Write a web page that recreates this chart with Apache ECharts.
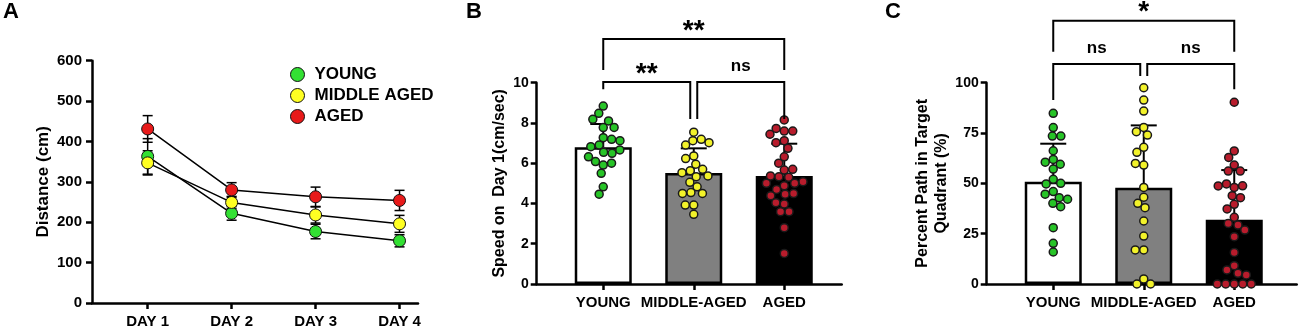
<!DOCTYPE html>
<html>
<head>
<meta charset="utf-8">
<script src="https://cdn.jsdelivr.net/npm/echarts@6.0.0/dist/echarts.min.js"></script>
<style>
html, body { margin: 0; padding: 0; background: #fff; }
#main { width: 1300px; height: 329px; }
</style>
</head>
<body>
<div id="main"></div>
<script>
// ---- panel A : distance per training day (mean, SD) ----
var days = [1, 2, 3, 4];
var groupNames = ['YOUNG', 'MIDDLE AGED', 'AGED'];
var distYoung = [363, 222, 177, 154];
var distYoungSd = [44, 17, 18, 15];
var distMiddle = [347, 249, 218, 196];
var distMiddleSd = [30, 15, 20, 21];
var distAged = [431, 280, 263, 254];
var distAgedSd = [33, 18, 24, 25];

// ---- panels B and C : individual animals ----
var barCats = ['YOUNG', 'MIDDLE-AGED', 'AGED'];
var speedYoung = [8.84, 7.77, 7.27, 6.90, 6.54, 5.91, 5.50, 4.83, 4.46, 8.48, 8.10, 7.19, 6.82, 6.49, 6.08, 8.18, 7.78, 7.12, 6.66, 6.32, 6.00];
var speedMiddle = [7.54, 7.12, 7.19, 6.90, 7.02, 6.36, 6.23, 5.95, 5.63, 5.70, 5.53, 5.33, 5.37, 5.05, 4.83, 4.54, 4.50, 4.50, 3.92, 3.92, 3.46];
var speedAged = [8.15, 7.60, 7.73, 7.60, 7.44, 7.12, 7.02, 6.74, 6.32, 6.00, 5.66, 5.70, 5.33, 5.37, 5.30, 5.00, 5.00, 5.08, 4.88, 4.70, 4.46, 4.49, 4.39, 3.97, 4.04, 3.59, 3.59, 2.80, 1.52];
var speedMean = [6.80, 5.51, 5.37];
var speedSd = [1.15, 1.23, 1.60];

var pathYoung = [84.8, 77.7, 73.5, 73.5, 66.2, 61.9, 60.5, 59.5, 57.1, 52.0, 49.7, 50.0, 45.9, 44.6, 42.9, 42.1, 40.1, 38.4, 28.0, 20.2, 15.9];
var pathMiddle = [97.5, 91.4, 85.9, 77.8, 75.7, 74.0, 67.9, 65.4, 59.1, 59.9, 48.0, 43.1, 40.1, 37.9, 31.3, 23.8, 16.9, 16.9, 2.5, 0, 0];
var pathAged = [90.3, 66.1, 62.9, 59.1, 56.1, 56.1, 48.0, 49.7, 48.8, 48.7, 43.9, 42.9, 39.6, 37.3, 33.1, 30.1, 29.3, 26.8, 23.5, 15.7, 9.1, 7.0, 5.3, 4.5, 0, 0, 0, 0, 0];
var pathMean = [50.8, 47.8, 31.9];
var pathSd = [18.9, 31.0, 24.7];

// brackets: [from, to, top, leftEnd, rightEnd, label]
var speedBrackets = [[0, 1, 10.03, 9.67, 8.2, '**'], [1, 2, 10.03, 8.2, 8.2, 'ns'], [0, 2, 12.17, 10.63, 10.63, '**']];
var pathBrackets = [[0, 1, 109.3, 91.4, 103.3, 'ns'], [1, 2, 109.3, 103.3, 96.7, 'ns'], [0, 2, 130.8, 115.4, 115.4, '*']];

var FONT = '"Liberation Sans", Arial, sans-serif';
var dotColors = ['#27c427', '#f2f22a', '#b81c2c'];
var lineColors = ['#33e033', '#ffff22', '#e81a1a'];
var barFills = ['#ffffff', '#808080', '#000000'];

var chart = echarts.init(document.getElementById('main'));

function errorBars(capHalf, width) {
  return function (params, api) {
    var x = api.value(0);
    var lo = api.coord([x, api.value(1)]);
    var hi = api.coord([x, api.value(2)]);
    var st = { stroke: '#000', lineWidth: width };
    var kids = [
      { type: 'line', shape: { x1: lo[0], y1: lo[1], x2: hi[0], y2: hi[1] }, style: st },
      { type: 'line', shape: { x1: hi[0] - capHalf, y1: hi[1], x2: hi[0] + capHalf, y2: hi[1] }, style: st }
    ];
    if (api.value(3)) {
      kids.push({ type: 'line', shape: { x1: lo[0] - capHalf, y1: lo[1], x2: lo[0] + capHalf, y2: lo[1] }, style: st });
    }
    return { type: 'group', children: kids };
  };
}

function brackets(list) {
  return function (params, api) {
    var b = list[params.dataIndex];
    var t1 = api.coord([b[0], b[2]]);
    var t2 = api.coord([b[1], b[2]]);
    var e1 = api.coord([b[0], b[3]]);
    var e2 = api.coord([b[1], b[4]]);
    var ax = t1[0], bx = t2[0];
    if (b[1] - b[0] === 1) {
      if (b[1] === 1) bx -= 3.5;
      if (b[0] === 1) ax += 3.5;
    }
    var star = b[5].indexOf('*') >= 0;
    return {
      type: 'group',
      children: [
        { type: 'polyline', shape: { points: [[ax, e1[1]], [ax, t1[1]], [bx, t1[1]], [bx, e2[1]]] },
          style: { stroke: '#000', fill: null, lineWidth: 2 } },
        { type: 'text', x: (ax + bx) / 2, y: t1[1] - (star ? 8 : 16),
          style: { text: b[5], fontFamily: 'Liberation Sans', fontWeight: 'bold',
                   fontSize: star ? 28 : 17, align: 'center', verticalAlign: 'middle', fill: '#000' } }
      ]
    };
  };
}

var axisLine = { show: true, lineStyle: { color: '#000', width: 2.5 } };
var tickStyle = { show: true, length: 6, lineStyle: { color: '#000', width: 2.5 } };
var boldLabel = function (size, margin) {
  return { color: '#000', fontFamily: FONT, fontWeight: 'bold', fontSize: size, margin: margin };
};
var nameStyle = function (size, lh) {
  return { color: '#000', fontFamily: FONT, fontWeight: 'bold', fontSize: size, lineHeight: lh };
};

// pixel frame of panels B and C (data grid is inset so the bands sit under the ticks)
function frameGrid(left, w) { return { left: left, top: 82.7, bottom: 45, width: w }; }
function dataGrid(left) { return { left: left, top: 2.2, bottom: 45, width: 271.5 }; }

var series = [];
var distSets = [[distYoung, distYoungSd], [distMiddle, distMiddleSd], [distAged, distAgedSd]];

// A: error bars first (underneath), then lines with markers
distSets.forEach(function (s) {
  series.push({
    type: 'custom', xAxisIndex: 0, yAxisIndex: 0, z: 1,
    renderItem: errorBars(5, 1.5),
    data: days.map(function (d, i) { return [d, s[0][i] - s[1][i], s[0][i] + s[1][i], 1]; })
  });
});
distSets.forEach(function (s, k) {
  series.push({
    type: 'line', name: groupNames[k], xAxisIndex: 0, yAxisIndex: 0, z: 3 + k,
    symbol: 'circle', symbolSize: 12,
    itemStyle: { color: lineColors[k], borderColor: '#111', borderWidth: 1 },
    lineStyle: { color: '#000', width: 1.5 },
    data: days.map(function (d, i) { return [d, s[0][i]]; })
  });
});

function barPanel(axisIdx, means, sds, groups, brk, prefix) {
  series.push({
    type: 'bar', xAxisIndex: axisIdx, yAxisIndex: axisIdx, barWidth: 57, z: 1,
    data: means.map(function (m, i) {
      return { value: m, itemStyle: { color: barFills[i], borderColor: '#000', borderWidth: 2.5 } };
    })
  });
  series.push({
    type: 'custom', xAxisIndex: axisIdx, yAxisIndex: axisIdx, z: 2,
    renderItem: errorBars(13, 2),
    data: means.map(function (m, i) { return [i, m, m + sds[i], 0]; })
  });
  groups.forEach(function (g, k) {
    series.push({
      type: 'scatter', name: prefix + barCats[k], xAxisIndex: axisIdx, yAxisIndex: axisIdx, z: 5,
      symbolSize: 8,
      itemStyle: { color: dotColors[k], borderColor: '#1a1a1a', borderWidth: 1.5, opacity: 1 },
      data: g.map(function (v) { return [k, v]; })
    });
  });
  series.push({
    type: 'custom', xAxisIndex: axisIdx, yAxisIndex: axisIdx, z: 6,
    renderItem: brackets(brk),
    data: brk.map(function (b) { return b.slice(0, 5); })
  });
}
barPanel(2, speedMean, speedSd, [speedYoung, speedMiddle, speedAged], speedBrackets, 'speed ');
barPanel(4, pathMean, pathSd, [pathYoung, pathMiddle, pathAged], pathBrackets, 'path ');

function categoryAxis(gridIdx) {
  return {
    gridIndex: gridIdx, type: 'category', data: barCats, boundaryGap: true,
    jitter: 52, jitterOverlap: false, jitterMargin: 0.5,
    axisLine: { show: false },
    axisTick: { show: true, alignWithLabel: true, length: 6, lineStyle: { color: '#000', width: 2.5 } },
    axisLabel: Object.assign(boldLabel(15, 11.5), { interval: 0, hideOverlap: false })
  };
}
function hiddenX(gridIdx) {
  return { gridIndex: gridIdx, type: 'value', min: 0, max: 1, axisLine: axisLine,
           axisTick: { show: false }, axisLabel: { show: false }, splitLine: { show: false } };
}
function hiddenY(gridIdx, max) {
  return { gridIndex: gridIdx, type: 'value', min: 0, max: max, show: false, splitLine: { show: false } };
}

chart.setOption({
  animation: false,
  backgroundColor: '#fff',
  grid: [
    { left: 92, top: 60.7, bottom: 25, width: 326 },
    frameGrid(536.7, 305), dataGrid(558),
    frameGrid(986.7, 310), dataGrid(1008)
  ],
  xAxis: [
    {
      gridIndex: 0, type: 'value', min: 0.337, max: 4.22,
      axisLine: axisLine,
      axisTick: { show: true, length: 6, customValues: days, lineStyle: { color: '#000', width: 2.5 } },
      axisLabel: Object.assign(boldLabel(15, 11), { customValues: days, formatter: 'DAY {value}' }),
      splitLine: { show: false }
    },
    hiddenX(1), categoryAxis(2),
    hiddenX(3), categoryAxis(4)
  ],
  yAxis: [
    {
      gridIndex: 0, type: 'value', min: 0, max: 600, interval: 100,
      axisLine: axisLine, axisTick: tickStyle, axisLabel: boldLabel(15, 10), splitLine: { show: false },
      name: 'Distance (cm)', nameLocation: 'middle', nameRotate: 90, nameGap: 38,
      nameTextStyle: nameStyle(17, 20)
    },
    {
      gridIndex: 1, type: 'value', min: 0, max: 10, interval: 2,
      axisLine: axisLine, axisTick: tickStyle, axisLabel: boldLabel(14, 8), splitLine: { show: false },
      name: 'Speed on  Day 1(cm/sec)', nameLocation: 'middle', nameRotate: 90, nameGap: 26,
      nameTextStyle: nameStyle(16, 19)
    },
    hiddenY(2, 14),
    {
      gridIndex: 3, type: 'value', min: 0, max: 100, interval: 25,
      axisLine: axisLine, axisTick: tickStyle, axisLabel: boldLabel(14, 8), splitLine: { show: false },
      name: 'Percent Path in Target\nQuadrant (%)', nameLocation: 'middle', nameRotate: 90, nameGap: 31,
      nameTextStyle: nameStyle(16, 19)
    },
    hiddenY(4, 140)
  ],
  legend: {
    data: groupNames, orient: 'vertical', left: 285, top: 61,
    itemWidth: 24, itemHeight: 14, itemGap: 4, icon: 'circle',
    itemStyle: { borderColor: '#111', borderWidth: 1 },
    textStyle: { color: '#000', fontFamily: FONT, fontWeight: 'bold', fontSize: 17 },
    selectedMode: false
  },
  graphic: [
    { type: 'text', left: 3, top: 1, style: { text: 'A', fontFamily: 'Liberation Sans', fontWeight: 'bold', fontSize: 22, fill: '#000' } },
    { type: 'text', left: 466, top: 1, style: { text: 'B', fontFamily: 'Liberation Sans', fontWeight: 'bold', fontSize: 22, fill: '#000' } },
    { type: 'text', left: 885, top: 1, style: { text: 'C', fontFamily: 'Liberation Sans', fontWeight: 'bold', fontSize: 22, fill: '#000' } }
  ],
  series: series
});
</script>
</body>
</html>
